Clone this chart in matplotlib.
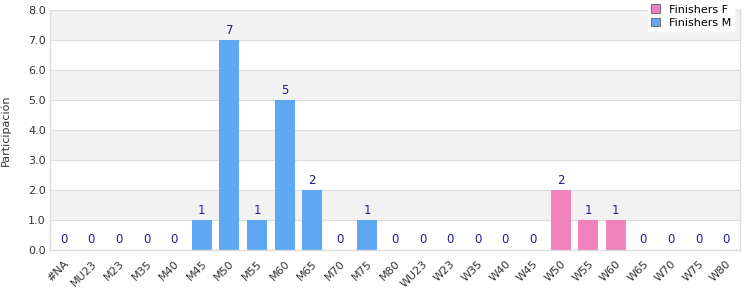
import matplotlib
matplotlib.use("Agg")
import matplotlib.pyplot as plt
import numpy as np

categories = ["#NA", "MU23", "M23", "M35", "M40", "M45", "M50", "M55", "M60", "M65",
              "M70", "M75", "M80", "WU23", "W23", "W35", "W40", "W45", "W50", "W55",
              "W60", "W65", "W70", "W75", "W80"]
finishers_f = [0, 0, 0, 0, 0, 0, 0, 0, 0, 0, 0, 0, 0, 0, 0, 0, 0, 0, 2, 1, 1, 0, 0, 0, 0]
finishers_m = [0, 0, 0, 0, 0, 1, 7, 1, 5, 2, 0, 1, 0, 0, 0, 0, 0, 0, 0, 0, 0, 0, 0, 0, 0]
y_ticks = [0, 1, 2, 3, 4, 5, 6, 7, 8]

col_f = "#f282bc"
col_m = "#5fa8f4"
lab_col = "#1f1f8f"
grid_col = "#dcdcdc"

fig = plt.figure(figsize=(7.5, 3), dpi=100)
ax = fig.add_axes([50/750, 50/300, 690/750, 240/300])

x = np.arange(len(categories))
f = np.array(finishers_f)
m = np.array(finishers_m)

# alternating bands
for i in range(len(y_ticks) - 1):
    if (len(y_ticks) - 2 - i) % 2 == 0:
        ax.axhspan(y_ticks[i], y_ticks[i+1], color="#f2f2f2", zorder=0, lw=0)
for t in y_ticks[1:]:
    ax.axhline(t, color=grid_col, lw=0.8, zorder=1)

ax.bar(x, f, width=0.72, color=col_f, zorder=2, label="Finishers F")
ax.bar(x, m, width=0.72, bottom=f, color=col_m, zorder=2, label="Finishers M")

tot = f + m
for xi, t in zip(x, tot):
    yy = t + 0.1 if t > 0 else 0.12
    ax.text(xi, yy, str(int(t)), ha="center", va="bottom", color=lab_col, fontsize=8.5, zorder=3)

ax.set_xlim(-0.5, len(categories) - 0.5)
ax.set_ylim(0, 8)
ax.set_yticks(y_ticks)
ax.set_yticklabels([f"{v:.1f}" for v in y_ticks], fontsize=8, color="#333333")
ax.set_xticks(x)
ax.set_xticklabels(categories, rotation=45, ha="right", rotation_mode="anchor", fontsize=8, color="#333333")
ax.tick_params(axis="both", length=0, pad=3)
ax.tick_params(axis="x", pad=6)
ax.spines["top"].set_visible(False)
for s in ["left", "bottom", "right"]:
    ax.spines[s].set_color(grid_col)
    ax.spines[s].set_linewidth(1)
ax.set_ylabel("Participación", fontsize=8, color="#333333")
ax.yaxis.set_label_coords(-0.056, 0.5)

leg = ax.legend(loc="upper right", bbox_to_anchor=(1.0, 1.06), fontsize=8, frameon=True,
                fancybox=False, framealpha=1, edgecolor="white", handlelength=0.8,
                handleheight=0.8, borderpad=0.3, labelspacing=0.3, handletextpad=0.8)
for h in leg.legend_handles:
    h.set_edgecolor("#777777")
    h.set_linewidth(0.8)
leg.set_zorder(5)

fig.savefig("out.png", dpi=100)
